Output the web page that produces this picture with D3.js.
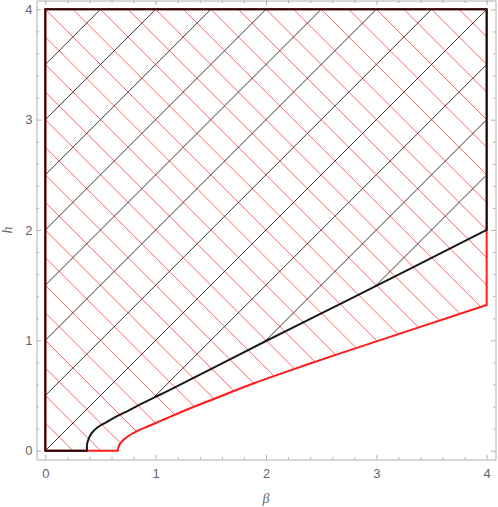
<!DOCTYPE html>
<meta charset="utf-8">
<html>
<head>
  <style>
    body { margin: 0; background: #fff; }
    svg { display: block; }
    .tick text { font-family: "Liberation Sans", Arial, sans-serif; font-size: 13px; fill: #666; }
  </style>
</head>
<body>
<svg id="chart" width="498" height="507"></svg>
<script src="https://d3js.org/d3.v7.min.js"></script>
<script>

// boundary curves, [beta, h]
const blackCurve = [
  [0.377, 0], [0.381, 0.075], [0.415, 0.152], [0.474, 0.212], [0.551, 0.257],
  [0.641, 0.309], [0.762, 0.368], [0.883, 0.43], [1.004, 0.49], [1.125, 0.548],
  [2.0, 0.994], [2.742, 1.364], [4, 2.0]
];
const redCurve = [
  [0.657, 0], [0.670, 0.051], [0.707, 0.097], [0.767, 0.142], [0.831, 0.178],
  [0.949, 0.228], [1.085, 0.287], [1.221, 0.346], [1.492, 0.455], [1.885, 0.609],
  [2.247, 0.737], [2.625, 0.866], [4, 1.32]
];
const majorTicks = [0, 1, 2, 3, 4];
const xLabel = "β", yLabel = "h";

const svg = d3.select("#chart");
const x = d3.scaleLinear().domain([-0.08, 4.08]).range([36.5, 495.5]);
const y = d3.scaleLinear().domain([-0.08, 4.08]).range([459.5, 0.5]);

const minorTicks = d3.range(0, 4.0001, 0.2).filter(t => Math.abs(t - Math.round(t)) > 1e-6);

const curveLine = d3.line()
  .x(d => x(d[0])).y(d => y(d[1]))
  .curve(d3.curveCatmullRom.alpha(0.5));

// region = (0,0) -> curve -> (4,4) -> (0,4)
function regionPath(curve) {
  const c = curveLine(curve);
  return "M" + x(0) + "," + y(0) + "L" + c.slice(1) + "L" + x(4) + "," + y(4) + "L" + x(0) + "," + y(4) + "Z";
}

const defs = svg.append("defs");
defs.append("clipPath").attr("id", "clipBlack").append("path").attr("d", regionPath(blackCurve));
defs.append("clipPath").attr("id", "clipRed").append("path").attr("d", regionPath(redCurve));

// red hatching: h = -beta + c
svg.append("g")
  .attr("clip-path", "url(#clipRed)")
  .selectAll("line")
  .data(d3.range(0, 8.01, 0.25))
  .join("line")
  .attr("x1", c => x(c - 4.5)).attr("y1", c => y(4.5))
  .attr("x2", c => x(c + 0.5)).attr("y2", c => y(-0.5))
  .attr("stroke", "#ff2a2a")
  .attr("stroke-opacity", 0.8)
  .attr("stroke-width", 0.9);

// black hatching: h = beta + c
svg.append("g")
  .attr("clip-path", "url(#clipBlack)")
  .selectAll("line")
  .data(d3.range(-4, 4.01, 0.5))
  .join("line")
  .attr("x1", c => x(-0.5)).attr("y1", c => y(c - 0.5))
  .attr("x2", c => x(4.5)).attr("y2", c => y(c + 4.5))
  .attr("stroke", "#222")
  .attr("stroke-width", 0.9);

// boundaries
svg.append("path")
  .attr("d", regionPath(redCurve))
  .attr("fill", "none")
  .attr("stroke", "#ff1a1a")
  .attr("stroke-width", 2);
svg.append("path")
  .attr("d", regionPath(blackCurve))
  .attr("fill", "none")
  .attr("stroke", "#000")
  .attr("stroke-width", 2)
  .attr("stroke-opacity", 0.9);

// frame with inward ticks on all four sides
function frameAxis(axisFn, transform, labels) {
  const scale = (axisFn === d3.axisLeft || axisFn === d3.axisRight) ? y : x;
  const g = svg.append("g").attr("transform", transform);
  g.call(axisFn(scale).tickValues(minorTicks).tickSize(-2.5).tickSizeOuter(0).tickFormat(""));
  g.select(".domain").remove();
  const g2 = svg.append("g").attr("transform", transform);
  g2.call(axisFn(scale)
    .tickValues(majorTicks).tickSize(-4.5).tickSizeOuter(0)
    .tickPadding(axisFn === d3.axisBottom ? 9 : 4)
    .tickFormat(labels ? d3.format("d") : ""));
  [g, g2].forEach(s => s.selectAll("path, line").attr("stroke", "#b0b0b0"));
}
frameAxis(d3.axisBottom, "translate(0,459.5)", true);
frameAxis(d3.axisLeft, "translate(36.5,0)", true);
frameAxis(d3.axisTop, "translate(0,0.5)", false);
frameAxis(d3.axisRight, "translate(495.5,0)", false);

// axis labels
svg.append("text")
  .attr("x", 266).attr("y", 503)
  .attr("text-anchor", "middle")
  .attr("font-family", "Liberation Serif, serif")
  .attr("font-style", "italic")
  .attr("font-size", 14)
  .attr("fill", "#666")
  .text(xLabel);
svg.append("text")
  .attr("transform", "translate(12,230) rotate(-90)")
  .attr("text-anchor", "middle")
  .attr("font-family", "Liberation Serif, serif")
  .attr("font-style", "italic")
  .attr("font-size", 14)
  .attr("fill", "#666")
  .text(yLabel);

</script>
</body>
</html>
